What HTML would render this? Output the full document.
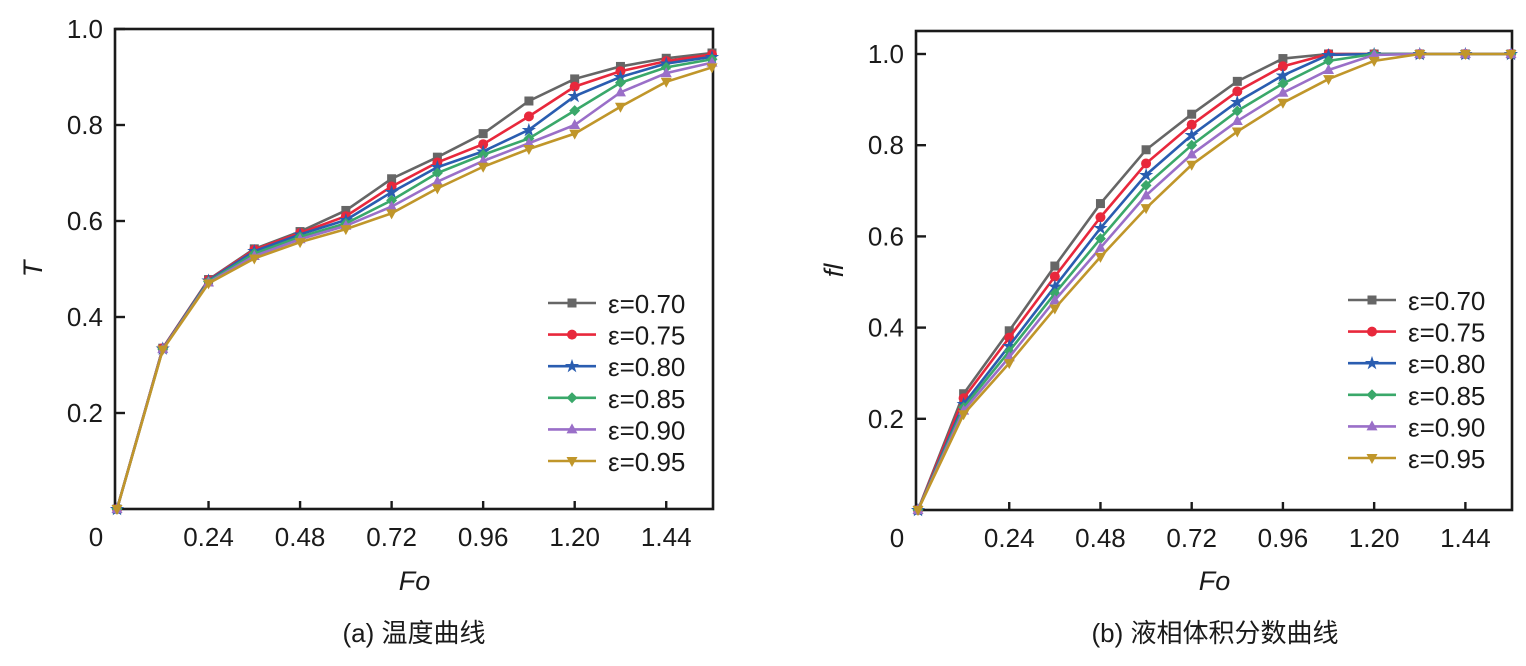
<!DOCTYPE html>
<html><head><meta charset="utf-8"><style>
body{margin:0;background:#fff}
svg{display:block;font-family:"Liberation Sans","Noto Sans CJK SC",sans-serif}
</style></head><body>
<svg id="c" width="1526" height="666"></svg>
<script>
const fo=[0,0.12,0.24,0.36,0.48,0.60,0.72,0.84,0.96,1.08,1.20,1.32,1.44,1.56];
const labels=["ε=0.70","ε=0.75","ε=0.80","ε=0.85","ε=0.90","ε=0.95"];
const xTicks=["0.24","0.48","0.72","0.96","1.20","1.44"];
const xTickVals=[0.24,0.48,0.72,0.96,1.20,1.44];
const yTickVals=[0.2,0.4,0.6,0.8,1.0];
const tA070=[0,.335,.478,.542,.578,.622,.688,.733,.782,.850,.896,.922,.939,.950];
const tA075=[0,.335,.477,.540,.575,.610,.672,.722,.760,.818,.880,.912,.933,.947];
const tA080=[0,.334,.476,.537,.572,.602,.660,.712,.745,.790,.860,.900,.928,.942];
const tA085=[0,.333,.474,.532,.567,.595,.643,.700,.738,.772,.830,.888,.920,.937];
const tA090=[0,.333,.472,.527,.562,.590,.630,.682,.725,.762,.800,.868,.908,.930];
const tA095=[0,.332,.470,.522,.556,.583,.616,.668,.713,.750,.782,.838,.890,.920];
const fl070=[0,.255,.393,.535,.672,.790,.868,.940,.990,1,1,1,1,1];
const fl075=[0,.245,.378,.512,.642,.760,.845,.918,.973,1,1,1,1,1];
const fl080=[0,.232,.360,.490,.618,.735,.822,.895,.953,.998,1,1,1,1];
const fl085=[0,.225,.348,.475,.595,.712,.800,.875,.935,.985,1,1,1,1];
const fl090=[0,.218,.335,.460,.575,.690,.780,.853,.915,.965,.998,1,1,1];
const fl095=[0,.210,.322,.442,.555,.662,.757,.830,.893,.945,.985,1,1,1];
const colors=["#666666","#e8283c","#2a5db0","#3aa86a","#9a6fc8","#c0962a"];
const markers=["square","circle","star","diamond","tri-up","tri-down"];
const NS="http://www.w3.org/2000/svg";
const svg=document.getElementById('c');
function mk(tag,at,parent){const e=document.createElementNS(NS,tag);for(const k in at)e.setAttribute(k,at[k]);(parent||svg).appendChild(e);return e;}
function marker(g,type,x,y,c){
  let e;
  if(type==="square")e=mk('rect',{x:x-4.5,y:y-4.5,width:9,height:9,fill:c},g);
  else if(type==="circle")e=mk('circle',{cx:x,cy:y,r:5,fill:c},g);
  else if(type==="star")e=mk('text',{x:x,y:y+5,'text-anchor':'middle','font-size':15,fill:c},g),e.textContent="★";
  else if(type==="diamond")e=mk('polygon',{points:`${x},${y-5.5} ${x+5.5},${y} ${x},${y+5.5} ${x-5.5},${y}`,fill:c},g);
  else if(type==="tri-up")e=mk('polygon',{points:`${x},${y-6} ${x+5.5},${y+4} ${x-5.5},${y+4}`,fill:c},g);
  else e=mk('polygon',{points:`${x-5.5},${y-4} ${x+5.5},${y-4} ${x},${y+6}`,fill:c},g);
  
  
}
function chart(o){
  const g=mk('g',{});
  
  
  const sx=v=>o.x0+v*(o.x1-o.x0)/1.56;
  const sy=v=>o.y0-v*(o.y0-o.y1);
  const fr=mk('rect',{x:o.x0-2,y:o.top,width:o.x1-o.x0+3,height:o.y0-o.top,fill:'none',stroke:'#1a1a1a','stroke-width':2.6},g);
  
  
  xTickVals.forEach((v,i)=>{
    mk('line',{x1:sx(v),x2:sx(v),y1:o.y0,y2:o.y0-8,stroke:'#1a1a1a','stroke-width':2.4},g);
    const t=mk('text',{x:sx(v),y:o.y0+37,'text-anchor':'middle','font-size':26,fill:'#1a1a1a'},g);
    t.textContent=xTicks[i];
    
    
  });
  const z=mk('text',{x:o.x0-21,y:o.y0+37,'text-anchor':'middle','font-size':26,fill:'#1a1a1a'},g);z.textContent="0";
  
  
  yTickVals.forEach(v=>{
    mk('line',{x1:o.x0-2,x2:o.x0+8,y1:sy(v),y2:sy(v),stroke:'#1a1a1a','stroke-width':2.4},g);
    const t=mk('text',{x:o.x0-14,y:sy(v)+9,'text-anchor':'end','font-size':26,fill:'#1a1a1a'},g);
    t.textContent=v.toFixed(1);
    
    
  });
  const xl=mk('text',{x:(o.x0+o.x1)/2,y:590,'text-anchor':'middle','font-size':27,'font-style':'italic',fill:'#1a1a1a'},g);
  xl.textContent="Fo";
  
  
  const yl=mk('text',{x:0,y:0,transform:`translate(${o.x0-75},${(o.y0+o.top)/2}) rotate(-90)`,'text-anchor':'middle','font-size':27,'font-style':'italic',fill:'#1a1a1a'},g);
  yl.textContent=o.ylab;
  
  
  const cap=mk('text',{x:o.capx,y:642,'text-anchor':'middle','font-size':26,fill:'#1a1a1a'},g);
  cap.textContent=o.cap;
  
  
  o.series.forEach((s,i)=>{
    const sg=mk('g',{},g);
    
    
    const pl=mk('polyline',{points:s.map((v,j)=>sx(fo[j])+','+sy(v)).join(' '),fill:'none',stroke:colors[i],'stroke-width':2.6},sg);
    
    
    s.forEach((v,j)=>marker(sg,markers[i],sx(fo[j]),sy(v),colors[i]));
    const ly=o.legY+i*31.6;
    const le=mk('g',{},g);
    
    
    mk('line',{x1:o.legX,x2:o.legX+48,y1:ly,y2:ly,stroke:colors[i],'stroke-width':2.6},le);
    marker(le,markers[i],o.legX+24,ly,colors[i]);
    const lt=mk('text',{x:o.legX+60,y:ly+10,'font-size':26,fill:'#1a1a1a'},le);
    lt.textContent=labels[i];
  });
}
chart({name:'temperature-chart',x0:117,x1:712,y0:509,y1:29,top:29,ylab:'T',cap:'(a) 温度曲线',capx:414,legX:548,legY:303,
  series:[tA070,tA075,tA080,tA085,tA090,tA095]});
chart({name:'liquid-fraction-chart',x0:918,x1:1511,y0:510,y1:54,top:31,ylab:'fl',cap:'(b) 液相体积分数曲线',capx:1215,legX:1348,legY:300,
  series:[fl070,fl075,fl080,fl085,fl090,fl095]});
</script>
</body></html>
